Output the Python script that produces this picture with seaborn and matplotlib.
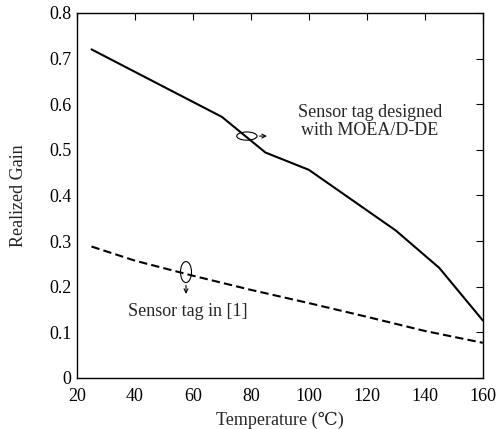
import numpy as np
import pandas as pd
import matplotlib
matplotlib.use('Agg')
import matplotlib.pyplot as plt
import seaborn as sns
from matplotlib.patches import Ellipse

# data
temp_moea = [25, 70, 85, 100, 130, 145, 160]
gain_moea = [0.72, 0.572, 0.494, 0.456, 0.323, 0.241, 0.126]

temp_ref = [25, 40, 60, 80, 100, 120, 140, 160]
gain_ref = [0.288, 0.257, 0.224, 0.193, 0.164, 0.134, 0.103, 0.077]

x_ticks = [20, 40, 60, 80, 100, 120, 140, 160]
y_ticks = [0, 0.1, 0.2, 0.3, 0.4, 0.5, 0.6, 0.7, 0.8]

df_moea = pd.DataFrame({'temp': temp_moea, 'gain': gain_moea})
df_ref = pd.DataFrame({'temp': temp_ref, 'gain': gain_ref})

sns.set_style('white')
plt.rcParams['font.family'] = ['Liberation Serif', 'DejaVu Serif']

fig = plt.figure(figsize=(5.01, 4.29), dpi=100)
ax = fig.add_axes([0.1537, 0.119, 0.81, 0.851])

sns.lineplot(data=df_moea, x='temp', y='gain', color='black', lw=1.5, ax=ax)
sns.lineplot(data=df_ref, x='temp', y='gain', color='black', lw=1.5, ax=ax,
             linestyle=(0, (4, 2)))

ax.set_xlim(20, 160)
ax.set_ylim(0, 0.8)
ax.set_xticks(x_ticks)
ax.set_yticks(y_ticks)
ax.set_xticklabels([str(t) for t in x_ticks])
ax.set_yticklabels(['0'] + [f'{t:.1f}' for t in y_ticks[1:]])
ax.tick_params(direction='in', top=True, right=True, length=5, width=0.8,
               labelsize=13, colors='black')
ax.tick_params(axis='x', pad=7)
ax.tick_params(axis='y', pad=4)
for s in ax.spines.values():
    s.set_color('black')
    s.set_linewidth(1.0)

ax.set_xlabel('Temperature (℃)', fontsize=13, labelpad=5)
ax.set_ylabel('Realized Gain', fontsize=13, labelpad=16)

# annotations
ax.add_patch(Ellipse((78.6, 0.53), 7, 0.018, fill=False, ec='black', lw=0.8))
ax.annotate('', xy=(86.5, 0.53), xytext=(82, 0.53),
            arrowprops=dict(arrowstyle='->', lw=0.8, color='black', mutation_scale=7))
ax.text(121, 0.562, 'Sensor tag designed\nwith MOEA/D-DE', ha='center', va='center',
        fontsize=13, linespacing=1.1)

ax.add_patch(Ellipse((57.6, 0.232), 3.8, 0.046, fill=False, ec='black', lw=0.8))
ax.annotate('', xy=(57.6, 0.178), xytext=(57.6, 0.209),
            arrowprops=dict(arrowstyle='->', lw=0.8, color='black', mutation_scale=7))
ax.text(37.6, 0.146, 'Sensor tag in [1]', ha='left', va='center', fontsize=13)

fig.savefig('out.png', dpi=100)
